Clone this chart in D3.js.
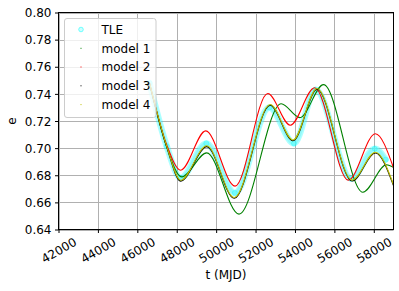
<!DOCTYPE html>
<html><head><meta charset="utf-8">
<script src="https://cdn.jsdelivr.net/npm/d3@7"></script>
<style>
html,body{margin:0;padding:0;background:#fff;}
svg{display:block;font-family:"DejaVu Sans",sans-serif;}
</style></head>
<body>
<svg id="c" width="399" height="291"></svg>
<script>
// ---- data ----
const xTicks = [42000, 44000, 46000, 48000, 50000, 52000, 54000, 56000, 58000];
const yTicks = [0.64, 0.66, 0.68, 0.70, 0.72, 0.74, 0.76, 0.78, 0.80];

const tleT = [46620, 47490, 48200, 49500, 50950, 52700, 53950, 55050, 56850, 58050, 58600];
const tleE = [0.748, 0.7015, 0.678, 0.7035, 0.667, 0.730, 0.7035, 0.743, 0.6775, 0.6995, 0.6915];

const model1T = [46620, 47490, 48250, 49520, 51160, 53300, 54250, 55450, 57440, 58650, 59000];
const model1E = [0.748, 0.7010, 0.6788, 0.6965, 0.6513, 0.7327, 0.7225, 0.7468, 0.6675, 0.6877, 0.6858];

const model2T = [46620, 47490, 48200, 49470, 50960, 52620, 53760, 55000, 56700, 58080, 59000];
const model2E = [0.748, 0.7025, 0.6837, 0.7127, 0.6720, 0.7403, 0.7169, 0.7445, 0.6764, 0.7106, 0.6855];

const model3T = [46620, 47490, 48200, 49520, 50920, 52740, 53900, 55120, 56900, 58080, 59000];
const model3E = [0.7474, 0.7009, 0.6757, 0.7011, 0.6630, 0.7316, 0.7054, 0.7434, 0.6758, 0.6964, 0.6724];

const model4T = [46620, 47490, 48200, 49520, 50920, 52740, 53900, 55120, 56900, 58080, 59000];
const model4E = [0.748, 0.7015, 0.6763, 0.7017, 0.6636, 0.7322, 0.7060, 0.7440, 0.6764, 0.6970, 0.6730];

const seriesNames = ["model 1", "model 2", "model 3", "model 4"];
const seriesColors = ["#008000", "#ff0000", "#000000", "#bfbf00"];

// ---- layout ----
const FS = 12;
const L = 58.5, R = 393.5, T = 12.5, B = 229.5;
const svg = d3.select("#c");
const x = d3.scaleLinear().domain([42000, 59000]).range([L, R]);
const y = d3.scaleLinear().domain([0.64, 0.80]).range([B, T]);

// grid
const grid = svg.append("g");
grid.selectAll("line.gx").data(xTicks).join("line")
  .attr("x1", d => Math.round(x(d)) + 0.5).attr("x2", d => Math.round(x(d)) + 0.5)
  .attr("y1", T).attr("y2", B).attr("stroke", "#b0b0b0").attr("stroke-width", 1);
grid.selectAll("line.gy").data(yTicks).join("line")
  .attr("y1", d => Math.round(y(d)) + 0.5).attr("y2", d => Math.round(y(d)) + 0.5)
  .attr("x1", L).attr("x2", R).attr("stroke", "#b0b0b0").attr("stroke-width", 1);

// clip
svg.append("clipPath").attr("id", "clip").append("rect")
  .attr("x", L).attr("y", T).attr("width", R - L).attr("height", B - T);
const plot = svg.append("g").attr("clip-path", "url(#clip)");

const line = d3.line().curve(d3.curveMonotoneX).x(d => x(d[0])).y(d => y(d[1]));
const zipS = (a, b) => a.map((v, i) => [v, b[i]]);

// TLE band
const tle = zipS(tleT, tleE);
plot.append("path").attr("d", line(tle)).attr("fill", "none")
  .attr("stroke", "#00ffff").attr("stroke-opacity", 0.32).attr("stroke-width", 6.5)
  .attr("stroke-linecap", "round");
plot.append("path").attr("d", line(tle)).attr("fill", "none")
  .attr("stroke", "#7ff5f5").attr("stroke-opacity", 0.6).attr("stroke-width", 3.5)
  .attr("stroke-linecap", "round");
plot.selectAll("circle.tle").data(tle).join("circle")
  .attr("cx", d => x(d[0])).attr("cy", d => y(d[1])).attr("r", 2.5)
  .attr("fill", "#00ffff").attr("fill-opacity", 0.2).attr("stroke", "#00ffff").attr("stroke-opacity", 0.35);

const models = [zipS(model1T, model1E), zipS(model2T, model2E), zipS(model3T, model3E), zipS(model4T, model4E)];
models.forEach((m, i) => {
  plot.append("path").attr("d", line(m)).attr("fill", "none")
    .attr("stroke", seriesColors[i]).attr("stroke-width", 1.1);
});

// axes
const xAxis = svg.append("g").attr("transform", `translate(0,${B})`)
  .call(d3.axisBottom(x).tickValues(xTicks).tickSize(3.5).tickSizeOuter(0).tickFormat(d3.format("d")));
xAxis.select(".domain").remove();
xAxis.selectAll(".tick line").attr("stroke", "#000").attr("stroke-width", 1);
xAxis.selectAll(".tick text")
  .attr("y", 0).attr("dy", null).attr("dominant-baseline", "central")
  .attr("text-anchor", "middle").attr("transform", "translate(0,21) rotate(-30)")
  .attr("font-size", FS).attr("font-family", "DejaVu Sans").attr("fill", "#000");

const yAxis = svg.append("g").attr("transform", `translate(${L},0)`)
  .call(d3.axisLeft(y).tickValues(yTicks).tickSize(3.5).tickSizeOuter(0).tickFormat(d3.format(".2f")));
yAxis.select(".domain").remove();
yAxis.selectAll(".tick line").attr("stroke", "#000").attr("stroke-width", 1);
yAxis.selectAll(".tick text").attr("x", -7).attr("dy", "0.35em")
  .attr("font-size", FS).attr("font-family", "DejaVu Sans").attr("fill", "#000");

// frame
svg.append("rect").attr("x", L).attr("y", T).attr("width", R - L).attr("height", B - T)
  .attr("fill", "none").attr("stroke", "#000").attr("stroke-width", 1);

// axis labels
svg.append("text").attr("x", (L + R) / 2).attr("y", 279).attr("text-anchor", "middle")
  .attr("font-size", FS).text("t (MJD)");
svg.append("text").attr("transform", `translate(16,121) rotate(-90)`).attr("text-anchor", "middle")
  .attr("font-size", FS).text("e");

// legend
const lg = svg.append("g");
lg.append("rect").attr("x", 64.5).attr("y", 18.5).attr("width", 91.5).attr("height", 99)
  .attr("rx", 2.5).attr("fill", "#fff").attr("fill-opacity", 0.8).attr("stroke", "#cccccc").attr("stroke-width", 1);
const rowY = [29.5, 48.3, 67, 85.8, 104.6];
lg.append("circle").attr("cx", 81).attr("cy", rowY[0]).attr("r", 2.3)
  .attr("fill", "#00ffff").attr("fill-opacity", 0.2).attr("stroke", "#00ffff").attr("stroke-opacity", 0.5);
lg.append("text").attr("x", 101.5).attr("y", rowY[0]).attr("dy", "0.35em").attr("font-size", FS).text("TLE");
seriesNames.forEach((n, i) => {
  lg.append("rect").attr("x", 80.5).attr("y", rowY[i + 1] - 0.5).attr("width", 1).attr("height", 1)
    .attr("fill", seriesColors[i]);
  lg.append("text").attr("x", 101.5).attr("y", rowY[i + 1]).attr("dy", "0.35em").attr("font-size", FS).text(n);
});
</script>
</body></html>
